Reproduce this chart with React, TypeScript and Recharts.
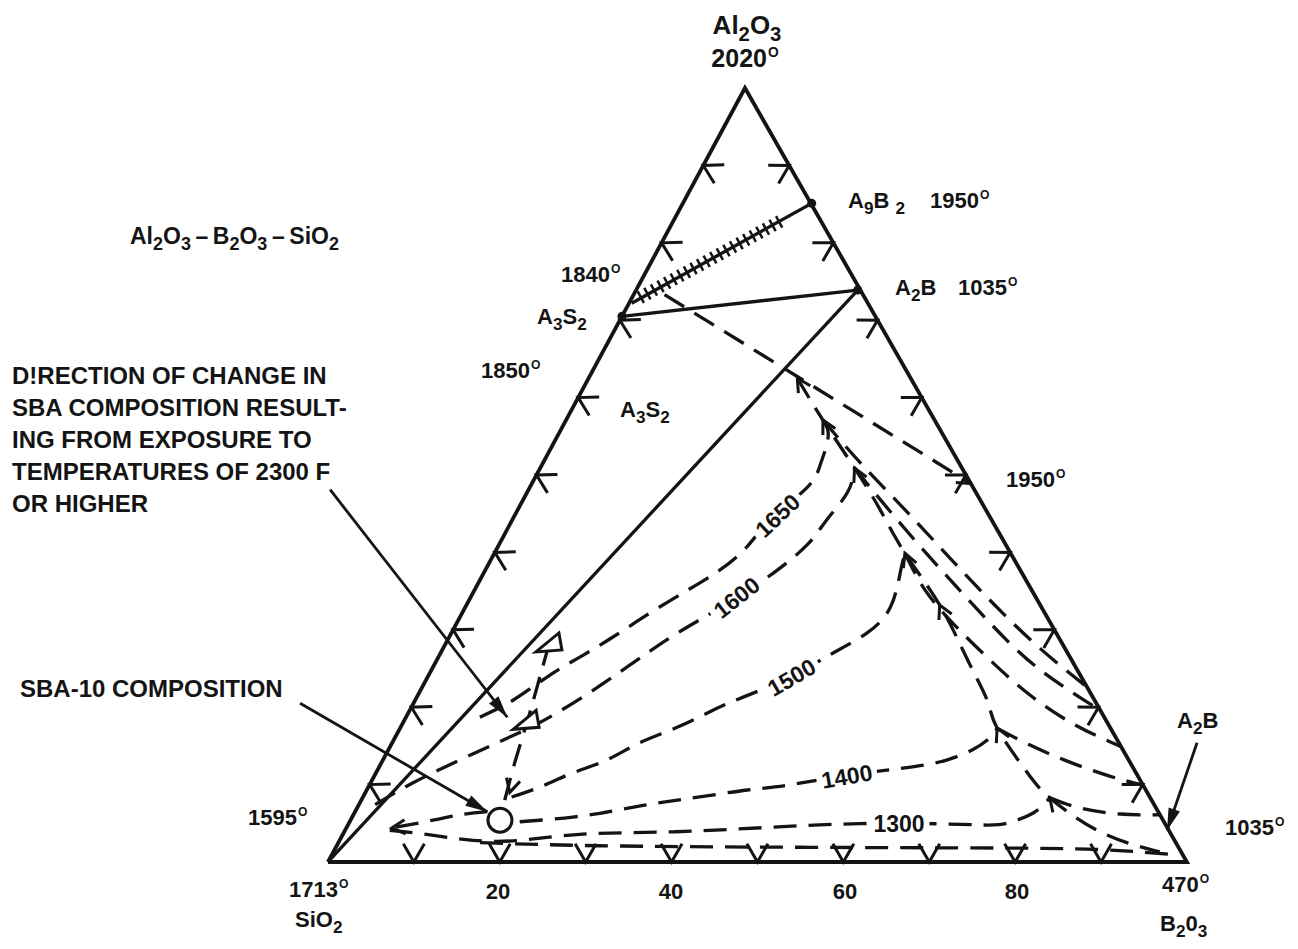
import React from "react";
import { ComposedChart, Line, Scatter, XAxis, YAxis } from "recharts";

// compositions as [B2O3 %, Al2O3 %] (SiO2 is the rest)
type Pt = [number, number];

const EDGES: Pt[] = [[0, 0], [100, 0], [0, 100], [0, 0]];
const JOIN_A3S2_A2B: Pt[] = [[0, 70.5], [25.8, 73.9]];
const JOIN_A2B_SIO2: Pt[] = [[25.8, 73.9], [0, 0]];
const JOIN_A9B2: Pt[] = [[0.3, 72.2], [15.0, 85.1]];
const HATCH_A9B2: Pt[] = [[0.9, 72.9], [12.6, 82.9]];

const BOUNDARY_A3S2: Pt[] = [[3.6, 73.3], [51.1, 48.9]];
const VALLEY: Pt[] = [
  [24.3, 62.5], [29.9, 57.1], [36.6, 50.9], [42.2, 45.5], [47.8, 39.9], [55.1, 33.2],
  [61.8, 26.1], [66.6, 20.9], [69.5, 17.3], [75.4, 11.9], [80.0, 8.3], [88.0, 3.9], [96.2, 1.3],
];
const BASE_BOUNDARY: Pt[] = [[16.5, 2.5], [30.6, 2.1], [54.0, 1.9], [77.4, 1.8], [89.1, 1.6], [97.5, 1.0]];

const ISO_1650: Pt[] = [
  [8.6, 18.7], [11.4, 20.9], [13.9, 23.9], [16.5, 26.5], [19.1, 29.1], [21.9, 32.2], [24.8, 35.1],
  [27.3, 37.7], [29.0, 40.7], [30.1, 44.4], [32.3, 48.4], [32.4, 51.3], [31.9, 53.9], [31.1, 55.8], [29.9, 57.1],
];
const ISO_1650_B: Pt[] = [[29.9, 57.1], [37.3, 51.3], [45.1, 45.5], [53.3, 39.3], [61.5, 33.2], [69.5, 27.6], [77.4, 22.6]];
const ISO_1600: Pt[] = [
  [1.9, 7.4], [4.9, 10.2], [9.0, 13.2], [13.1, 16.0], [15.9, 18.0], [19.3, 21.3], [22.6, 25.2], [25.5, 28.7],
  [28.1, 31.3], [31.0, 34.2], [33.7, 37.3], [35.9, 41.0], [36.6, 44.2], [37.3, 47.7], [36.6, 50.9],
];
const ISO_1600_B: Pt[] = [[36.6, 50.9], [41.1, 47.2], [48.1, 41.6], [55.6, 35.8], [63.0, 30.2], [70.9, 24.8], [80.4, 19.6]];
const ISO_1500: Pt[] = [
  [17.3, 8.4], [20.0, 9.7], [22.9, 11.5], [26.1, 13.2], [28.8, 15.4], [32.2, 17.4], [35.3, 19.6],
  [38.0, 21.3], [42.2, 23.9], [45.7, 27.0], [48.4, 29.6], [49.5, 32.9], [48.5, 37.3], [47.8, 39.9],
];
const ISO_1500_B: Pt[] = [[47.8, 39.9], [52.5, 35.1], [58.1, 30.6], [64.4, 26.1], [71.2, 21.6], [78.4, 17.7], [85.1, 14.9]];
const ISO_1400: Pt[] = [
  [19.8, 5.2], [25.7, 5.8], [30.4, 6.7], [34.6, 7.6], [39.2, 8.4], [44.3, 9.3], [48.6, 9.9],
  [55.0, 11.2], [62.1, 12.3], [65.7, 13.2], [68.0, 14.5], [69.3, 16.1], [69.5, 17.3],
];
const ISO_1400_B: Pt[] = [[69.5, 17.3], [74.4, 15.1], [80.1, 12.9], [85.6, 11.1], [90.1, 9.9]];
const ISO_1300: Pt[] = [
  [5.2, 4.1], [10.2, 3.5], [15.5, 2.8], [21.0, 2.8], [27.9, 3.6], [38.3, 3.9], [49.6, 4.5],
  [62.2, 5.0], [73.2, 4.8], [76.6, 5.0], [79.0, 6.3], [80.0, 8.3],
];
const ISO_1300_B: Pt[] = [[80.0, 8.3], [84.1, 7.0], [89.2, 6.2], [93.9, 6.1]];

// SBA-10 shift path
const SBA_UP: Pt[] = [[16.7, 8.0], [15.5, 12.9], [14.4, 18.1], [13.3, 22.9], [12.2, 27.6]];
const SBA_LEFT: Pt[] = [[15.4, 6.5], [12.4, 6.1], [9.6, 5.4], [5.3, 4.4]];
const SBA_POINT: Pt[] = [[17.4, 5.4]];
const SBA_TRIANGLES: Pt[] = [[14.3, 18.3], [12.1, 28.3]];
const COMPOUNDS: Pt[] = [[15.0, 85.1], [25.8, 73.9], [0, 70.5]];

// annotation pointers
const PTR_DIRECTION: Pt[] = [[-23.1, 48.1], [11.8, 18.7]];
const PTR_SBA: Pt[] = [[-13.2, 20.5], [15.4, 6.5]];
const PTR_A2B: Pt[] = [[93.7, 15.4], [95.7, 4.1]];
const PTR_HEADS = [
  { p: [11.8, 18.7] as Pt, deg: 52 },
  { p: [15.4, 6.5] as Pt, deg: 30 },
  { p: [95.7, 4.1] as Pt, deg: 109 },
];
const LINE_ARROWS = [
  { p: [24.3, 62.5] as Pt, deg: -122 },
  { p: [29.9, 57.1] as Pt, deg: -118 },
  { p: [36.6, 50.9] as Pt, deg: -115 },
  { p: [47.8, 39.9] as Pt, deg: -112 },
  { p: [55.1, 33.2] as Pt, deg: -115 },
  { p: [69.5, 17.3] as Pt, deg: -115 },
  { p: [80.0, 8.3] as Pt, deg: -130 },
  { p: [51.1, 48.9] as Pt, deg: 32 },
  { p: [5.3, 4.4] as Pt, deg: 175 },
  { p: [16.8, 9.0] as Pt, deg: 105 },
];

// edge arrow marks every 10 %
const LEFT_MARKS: Pt[] = [[0, 10], [0, 20], [0, 30], [0, 40], [0, 50], [0, 60], [0, 70], [0, 80], [0, 90]];
const RIGHT_MARKS: Pt[] = [[90, 10], [80, 20], [70, 30], [60, 40], [50, 50], [40, 60], [30, 70], [20, 80], [10, 90]];
const BASE_MARKS: Pt[] = [[10, 0], [20, 0], [30, 0], [40, 0], [50, 0], [60, 0], [70, 0], [80, 0], [90, 0]];

const BASE_LABELS = [
  { text: "20", x: 498 },
  { text: "40", x: 671 },
  { text: "60", x: 845 },
  { text: "80", x: 1017 },
];

const INK = "#141414";
const FONT = "'Liberation Sans', Arial, Helvetica, sans-serif";
const W = 1282;
const H = 933;
const SKEW = 0.4855; // apex sits a bit left of the base midpoint in the drawing
const X_DOMAIN: [number, number] = [-37.25, 112.0];
const Y_DOMAIN: [number, number] = [-10.21, 110.34];

const xy = (pts: Pt[]) => pts.map(([b, a]) => ({ x: b + SKEW * a, y: a }));
const withDeg = (list: { p: Pt; deg: number }[]) =>
  list.map(({ p, deg }) => ({ ...xy([p])[0], deg }));

const rad = (d: number) => (d * Math.PI) / 180;
const chevron = (cx: number, cy: number, deg: number, len: number, spread: number) => {
  const back = rad(deg + 180);
  const s = rad(spread);
  const x1 = cx + len * Math.cos(back - s);
  const y1 = cy + len * Math.sin(back - s);
  const x2 = cx + len * Math.cos(back + s);
  const y2 = cy + len * Math.sin(back + s);
  return `M${x1},${y1} L${cx},${cy} L${x2},${y2}`;
};

const edgeMark = (deg: number) => (props: any) =>
  <path d={chevron(props.cx, props.cy, deg, 21, 30)} stroke={INK} strokeWidth={3} fill="none" />;

const lineArrow = (props: any) =>
  <path d={chevron(props.cx, props.cy, props.payload.deg, 15, 28)} stroke={INK} strokeWidth={3} fill="none" />;

const solidHead = (props: any) => {
  const { cx, cy } = props;
  const back = rad(props.payload.deg + 180);
  const bx = cx + 22 * Math.cos(back);
  const by = cy + 22 * Math.sin(back);
  const nx = -Math.sin(back) * 6;
  const ny = Math.cos(back) * 6;
  return <path d={`M${cx},${cy} L${bx + nx},${by + ny} L${bx - nx},${by - ny} Z`} fill={INK} />;
};

const dotShape = (props: any) => <circle cx={props.cx} cy={props.cy} r={4.5} fill={INK} />;
const ringShape = (props: any) =>
  <circle cx={props.cx} cy={props.cy} r={12} fill="#fff" stroke={INK} strokeWidth={3} />;
const triShape = (props: any) => {
  const { cx, cy } = props;
  return (
    <path d={`M${cx - 14},${cy + 9} L${cx + 9},${cy - 10} L${cx + 12},${cy + 7} Z`}
      fill="#fff" stroke={INK} strokeWidth={3} />
  );
};

const Sub = ({ children }: { children: React.ReactNode }) => (
  <span style={{ fontSize: "0.78em", position: "relative", top: "0.34em" }}>{children}</span>
);
const Deg = () => (
  <span style={{ fontSize: "0.55em", position: "relative", top: "-0.72em", marginLeft: 1 }}>O</span>
);

type TxtProps = { x: number; y: number; size?: number; center?: boolean; children: React.ReactNode };
const Txt = ({ x, y, size = 22, center = false, children }: TxtProps) => (
  <div
    style={{
      position: "absolute",
      left: x - 8,
      top: y - 8 - 0.13 * size,
      fontSize: size,
      lineHeight: 1,
      whiteSpace: "nowrap",
      transform: center ? "translateX(-50%)" : undefined,
    }}
  >
    {children}
  </div>
);

const IsoTxt = ({ x, y, rot, children }: { x: number; y: number; rot: number; children: React.ReactNode }) => (
  <div
    style={{
      position: "absolute",
      left: x - 8,
      top: y - 8,
      transform: `translate(-50%,-50%) rotate(${rot}deg)`,
      background: "#fff",
      padding: "2px 5px",
      fontSize: 23,
      lineHeight: 1,
      whiteSpace: "nowrap",
    }}
  >
    {children}
  </div>
);

const DASH = "23 12";

const solid = (pts: Pt[], key: string, width = 3.3) => (
  <Line key={key} data={xy(pts)} dataKey="y" type="linear" stroke={INK} strokeWidth={width}
    dot={false} activeDot={false} isAnimationActive={false} strokeLinejoin="miter" />
);
const dashed = (pts: Pt[], key: string) => (
  <Line key={key} data={xy(pts)} dataKey="y" type="natural" stroke={INK} strokeWidth={3.3}
    strokeDasharray={DASH} dot={false} activeDot={false} isAnimationActive={false} />
);

export default function App() {
  return (
    <div style={{ position: "relative", width: W, height: H, fontFamily: FONT, fontWeight: 700, color: INK, background: "#fff" }}>
      <ComposedChart width={W} height={H} margin={{ top: 0, right: 0, bottom: 0, left: 0 }}>
        <XAxis type="number" dataKey="x" domain={X_DOMAIN} allowDataOverflow hide />
        <YAxis type="number" dataKey="y" domain={Y_DOMAIN} allowDataOverflow hide />

        {dashed(BOUNDARY_A3S2, "bnd")}
        {dashed(VALLEY, "valley")}
        {dashed(BASE_BOUNDARY, "base")}
        {dashed(ISO_1650, "i1650")}
        {dashed(ISO_1650_B, "i1650b")}
        {dashed(ISO_1600, "i1600")}
        {dashed(ISO_1600_B, "i1600b")}
        {dashed(ISO_1500, "i1500")}
        {dashed(ISO_1500_B, "i1500b")}
        {dashed(ISO_1400, "i1400")}
        {dashed(ISO_1400_B, "i1400b")}
        {dashed(ISO_1300, "i1300")}
        {dashed(ISO_1300_B, "i1300b")}
        {dashed(SBA_UP, "sbaup")}
        {dashed(SBA_LEFT, "sbaleft")}

        {solid(EDGES, "edges", 3.8)}
        {solid(JOIN_A3S2_A2B, "j1")}
        {solid(JOIN_A2B_SIO2, "j2")}
        {solid(JOIN_A9B2, "j3")}
        <Line data={xy(HATCH_A9B2)} dataKey="y" type="linear" stroke={INK} strokeWidth={13}
          strokeDasharray="2.5 5" dot={false} activeDot={false} isAnimationActive={false} />
        {solid(PTR_DIRECTION, "p1", 2.8)}
        {solid(PTR_SBA, "p2", 2.8)}
        {solid(PTR_A2B, "p3", 2.8)}

        <Scatter data={xy(LEFT_MARKS)} shape={edgeMark(-151.7)} isAnimationActive={false} />
        <Scatter data={xy(RIGHT_MARKS)} shape={edgeMark(-29.7)} isAnimationActive={false} />
        <Scatter data={xy(BASE_MARKS)} shape={edgeMark(90)} isAnimationActive={false} />
        <Scatter data={withDeg(LINE_ARROWS)} shape={lineArrow} isAnimationActive={false} />
        <Scatter data={withDeg(PTR_HEADS)} shape={solidHead} isAnimationActive={false} />
        <Scatter data={xy(COMPOUNDS)} shape={dotShape} isAnimationActive={false} />
        <Scatter data={xy(SBA_TRIANGLES)} shape={triShape} isAnimationActive={false} />
        <Scatter data={xy(SBA_POINT)} shape={ringShape} isAnimationActive={false} />
      </ComposedChart>

      <Txt x={747} y={15} size={26} center>Al<Sub>2</Sub>O<Sub>3</Sub></Txt>
      <Txt x={745} y={49} size={25} center>2020<Deg /></Txt>

      <Txt x={130} y={228} size={23}>
        Al<Sub>2</Sub>O<Sub>3</Sub>&thinsp;–&thinsp;B<Sub>2</Sub>O<Sub>3</Sub>&thinsp;–&thinsp;SiO<Sub>2</Sub>
      </Txt>

      <div style={{ position: "absolute", left: 4, top: 352, fontSize: 24, lineHeight: "32px", whiteSpace: "nowrap" }}>
        D!RECTION OF CHANGE IN<br />
        SBA COMPOSITION RESULT-<br />
        ING FROM EXPOSURE TO<br />
        TEMPERATURES OF 2300 F<br />
        OR HIGHER
      </div>
      <Txt x={20} y={680} size={24}>SBA-10 COMPOSITION</Txt>

      <Txt x={848} y={193}>A<Sub>9</Sub>B <Sub>2</Sub></Txt>
      <Txt x={930} y={193}>1950<Deg /></Txt>
      <Txt x={895} y={280}>A<Sub>2</Sub>B</Txt>
      <Txt x={958} y={280}>1035<Deg /></Txt>
      <Txt x={561} y={267}>1840<Deg /></Txt>
      <Txt x={537} y={309}>A<Sub>3</Sub>S<Sub>2</Sub></Txt>
      <Txt x={481} y={363}>1850<Deg /></Txt>
      <Txt x={620} y={402}>A<Sub>3</Sub>S<Sub>2</Sub></Txt>
      <Txt x={1006} y={472}>1950<Deg /></Txt>
      <Txt x={248} y={810}>1595<Deg /></Txt>
      <Txt x={289} y={882}>1713<Deg /></Txt>
      <Txt x={295} y={912}>SiO<Sub>2</Sub></Txt>
      {BASE_LABELS.map((l) => (
        <Txt key={l.text} x={l.x} y={884} center>{l.text}</Txt>
      ))}
      <Txt x={1162} y={877}>470<Deg /></Txt>
      <Txt x={1160} y={916}>B<Sub>2</Sub>0<Sub>3</Sub></Txt>
      <Txt x={1177} y={713}>A<Sub>2</Sub>B</Txt>
      <Txt x={1225} y={820}>1035<Deg /></Txt>

      <IsoTxt x={778} y={516} rot={-43}>1650</IsoTxt>
      <IsoTxt x={737} y={598} rot={-38}>1600</IsoTxt>
      <IsoTxt x={792} y={678} rot={-30}>1500</IsoTxt>
      <IsoTxt x={847} y={777} rot={-10}>1400</IsoTxt>
      <IsoTxt x={899} y={824} rot={0}>1300</IsoTxt>
    </div>
  );
}
